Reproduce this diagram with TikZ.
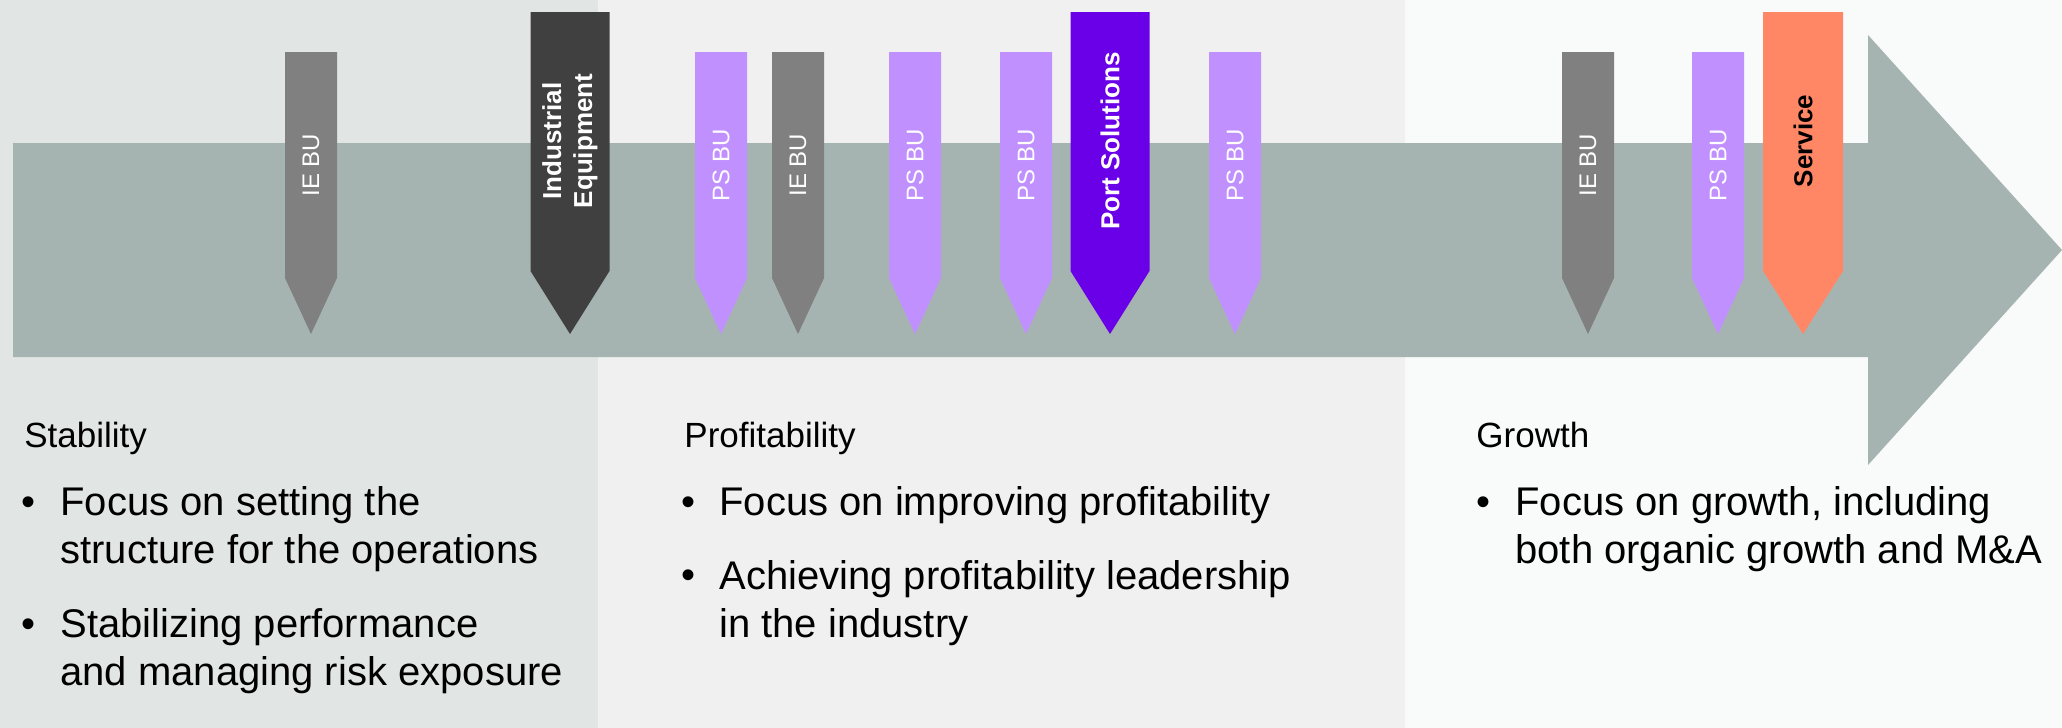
\documentclass[tikz,border=0pt]{standalone}
\usepackage{fontspec}
\setmainfont{Liberation Sans}
\usetikzlibrary{positioning}

\definecolor{panelA}{HTML}{E1E6E4}
\definecolor{panelB}{HTML}{EFF0EF}
\definecolor{panelC}{HTML}{F9FAFA}
\definecolor{band}{HTML}{A6B4B1}
\definecolor{iegrey}{HTML}{808080}
\definecolor{pslilac}{HTML}{C190FF}
\definecolor{iedark}{HTML}{404040}
\definecolor{psviolet}{HTML}{6A00E8}
\definecolor{svcoral}{HTML}{FF8766}

% pin: centre x, half width, top, shoulder, colour
\newcommand{\pin}[5]{\fill[#5] (#1-#2,#3) -- (#1+#2,#3) -- (#1+#2,#4) -- (#1,334) -- (#1-#2,#4) -- cycle;}

\begin{document}
\begin{tikzpicture}[x=0.5pt, y=-0.5pt,
    smalllbl/.style={rotate=90, inner sep=0, text=white, font=\fontsize{12}{14}\selectfont},
    biglbl/.style={rotate=90, inner sep=0, align=center, font=\bfseries\fontsize{13}{15.5}\selectfont},
    heading/.style={anchor=base west, inner sep=0, font=\fontsize{17.5}{21}\selectfont},
    item/.style={anchor=base west, inner sep=0, align=left, font=\fontsize{20}{24}\selectfont},
    bulletmark/.style={anchor=base, inner sep=0, font=\fontsize{20}{24}\selectfont}]

    % Fonds des trois phases
    \fill[panelA] (0,0) rectangle (598,728);
    \fill[panelB] (598,0) rectangle (1405,728);
    \fill[panelC] (1405,0) rectangle (2062,728);

    % Grande fleche
    \fill[band] (13,143) -- (1868,143) -- (1868,35) -- (2062,250) -- (1868,465) -- (1868,357) -- (13,357) -- cycle;

    % Petits marqueurs
    \foreach \x/\c/\t/\n in {311/iegrey/IE BU/ie1, 721/pslilac/PS BU/ps1, 798/iegrey/IE BU/ie2,
        915/pslilac/PS BU/ps2, 1026/pslilac/PS BU/ps3, 1235/pslilac/PS BU/ps4,
        1588/iegrey/IE BU/ie3, 1718/pslilac/PS BU/ps5}{
        \pin{\x}{26}{52}{278}{\c}
        \node[smalllbl] (\n) at (\x,165) {\t};
    }

    % Grands marqueurs
    \pin{570}{39.5}{12}{271}{iedark}
    \node[biglbl, text=white] (ie) at (570,141) {Industrial\\Equipment};
    \pin{1110}{39.5}{12}{271}{psviolet}
    \node[biglbl, text=white] (ps) at (1110,141) {Port Solutions};
    \pin{1803}{40}{12}{271}{svcoral}
    \node[biglbl, text=black] (sv) at (1803,141) {Service};

    % Textes des phases (base = derniere ligne)
    \node[heading] (stab) at (24,447) {Stability};
    \node[item] (stab1) at (60,563) {Focus on setting the\\structure for the operations};
    \node[item] (stab2) at (60,685) {Stabilizing performance\\and managing risk exposure};

    \node[heading] (prof) at (684,447) {Profitability};
    \node[item] (prof1) at (719,515) {Focus on improving profitability};
    \node[item] (prof2) at (719,637) {Achieving profitability leadership\\in the industry};

    \node[heading] (grow) at (1476,447) {Growth};
    \node[item] (grow1) at (1515,563) {Focus on growth, including\\both organic growth and M\&A};

    % Puces
    \foreach \x/\y [count=\i] in {29/515, 29/637, 688/515, 688/588, 1483/515}
        \node[bulletmark] (b\i) at (\x,\y) {\textbullet};

\end{tikzpicture}
\end{document}
